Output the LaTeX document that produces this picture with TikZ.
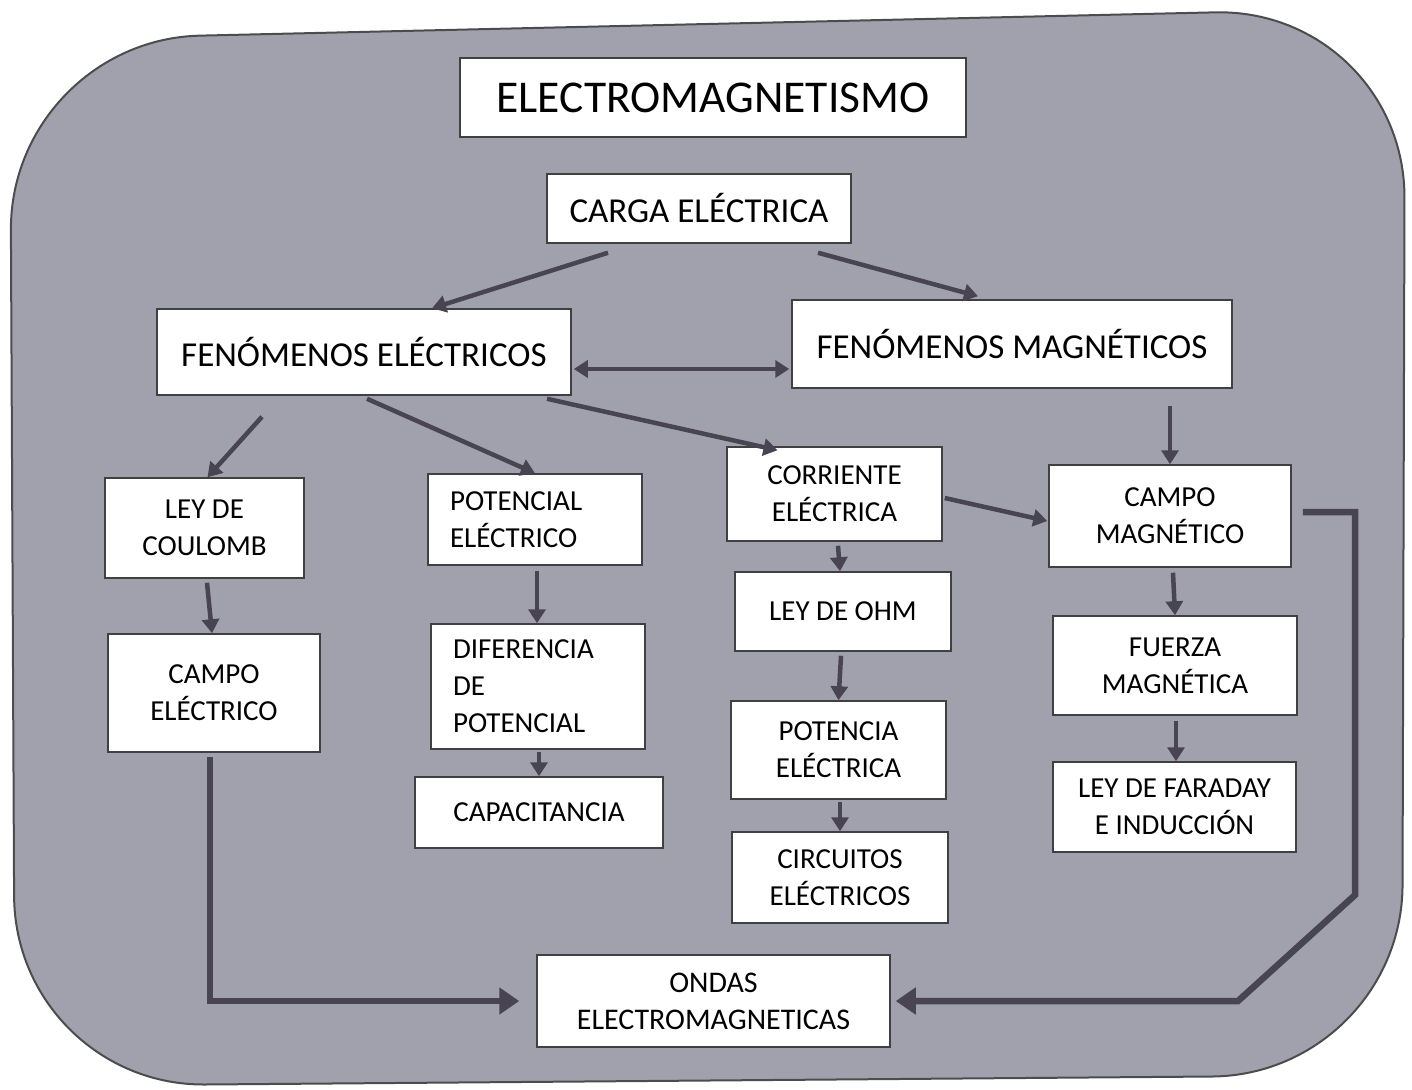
\documentclass[tikz,border=0pt]{standalone}
\usepackage{fontspec}
\setmainfont{Carlito}
\usepackage{tikz}
\usetikzlibrary{arrows.meta}

\definecolor{fondo}{RGB}{161,161,174}
\definecolor{flechagris}{RGB}{72,68,82}

\begin{document}
\begin{tikzpicture}[x=1pt, y=-1pt,
    caja/.style={draw=black!75, line width=1.5pt, fill=white, inner sep=0pt, align=center,
                 font=\fontsize{29}{37}\selectfont},
    cajagrande/.style={caja, font=\fontsize{35}{42}\selectfont},
    flecha/.style={draw=flechagris, line width=4.5pt, -{Triangle[width=17pt,length=14pt]}},
    flechagruesa/.style={draw=flechagris, line width=6.5pt, -{Triangle[width=26pt,length=20pt]}}]
\useasboundingbox (0,0) rectangle (1412,1089);
\draw[fill=fondo, draw=black!70, line width=2pt, rounded corners=190pt]
    (10,40) -- (1405,8) -- (1402,1075) -- (15,1086) -- cycle;

% titulo y primer nivel
\node[caja, font=\fontsize{45.5}{50}\selectfont, minimum width=506pt, minimum height=79pt] (titulo) at (713,97.5) {ELECTROMAGNETISMO};
\node[cajagrande, minimum width=304pt, minimum height=69pt] (carga) at (699,208.5) {CARGA ELÉCTRICA};
\node[cajagrande, minimum width=414pt, minimum height=86pt] (fenelec) at (364,352) {FENÓMENOS ELÉCTRICOS};
\node[cajagrande, minimum width=440pt, minimum height=88pt] (fenmag) at (1012,344) {FENÓMENOS MAGNÉTICOS};

% rama electrica
\node[caja, minimum width=199pt, minimum height=100pt] (coulomb) at (204.5,528) {LEY DE\\COULOMB};
\node[caja, minimum width=212pt, minimum height=118pt] (campoelec) at (214,693) {CAMPO\\ELÉCTRICO};
\node[caja, align=left, text width=170pt, inner xsep=22pt, minimum height=91pt] (potencial) at (535,519.5) {POTENCIAL\\ELÉCTRICO};
\node[caja, align=left, text width=170pt, inner xsep=22pt, minimum height=125pt] (diferencia) at (538,686.5) {DIFERENCIA\\DE\\POTENCIAL};
\node[caja, minimum width=248pt, minimum height=71pt] (capacitancia) at (539,812.5) {CAPACITANCIA};

% corriente
\node[caja, minimum width=215pt, minimum height=94pt] (corriente) at (834.5,494) {CORRIENTE\\ELÉCTRICA};
\node[caja, minimum width=216pt, minimum height=79pt] (ohm) at (843,611.5) {LEY DE OHM};
\node[caja, minimum width=215pt, minimum height=98pt] (potencia) at (838.5,750) {POTENCIA\\ELÉCTRICA};
\node[caja, minimum width=216pt, minimum height=91pt] (circuitos) at (840,877.5) {CIRCUITOS\\ELÉCTRICOS};

% rama magnetica
\node[caja, minimum width=242pt, minimum height=102pt] (campomag) at (1170,516) {CAMPO\\MAGNÉTICO};
\node[caja, minimum width=244pt, minimum height=99pt] (fuerza) at (1175,665.5) {FUERZA\\MAGNÉTICA};
\node[caja, minimum width=243pt, minimum height=90pt] (faraday) at (1174.5,807) {LEY DE FARADAY\\E INDUCCIÓN};

\node[caja, font=\fontsize{30}{37}\selectfont, minimum width=353pt, minimum height=92pt] (ondas) at (713.5,1001) {ONDAS\\ELECTROMAGNETICAS};

% flechas
\draw[flecha] ([xshift=-91pt,yshift=-9pt]carga.south) -- ([xshift=68pt]fenelec.north);
\draw[flecha] ([xshift=119pt,yshift=-9pt]carga.south) -- ([xshift=-34pt,yshift=3pt]fenmag.north);
\draw[flecha, {Triangle[width=17pt,length=14pt]}-{Triangle[width=17pt,length=14pt]}]
    ([xshift=2pt,yshift=-17pt]fenelec.east) -- ([xshift=-2pt,yshift=-25pt]fenmag.west);
\draw[flecha] ([xshift=-102pt,yshift=-21pt]fenelec.south) -- ([xshift=3pt]coulomb.north);
\draw[flecha] ([xshift=3pt,yshift=-3pt]fenelec.south) -- (potencial.north);
\draw[flecha] ([xshift=183pt,yshift=-3pt]fenelec.south) -- ([xshift=-57pt,yshift=-4pt]corriente.north);
\draw[flecha] ([xshift=158pt,yshift=-17pt]fenmag.south) -- (campomag.north);
\draw[flecha] ([xshift=2pt,yshift=-4pt]corriente.east) -- ([xshift=-1pt,yshift=-5pt]campomag.west);
\draw[flecha] ([xshift=3.5pt,yshift=-4pt]corriente.south) -- ([xshift=-3pt]ohm.north);
\draw[flecha] ([xshift=-2pt,yshift=-4pt]ohm.south) -- (potencia.north);
\draw[flecha] ([xshift=1.5pt,yshift=-2pt]potencia.south) -- (circuitos.north);
\draw[flecha] ([xshift=2.5pt,yshift=-4pt]coulomb.south) -- ([xshift=-2pt]campoelec.north);
\draw[flecha] ([xshift=2pt,yshift=-5pt]potencial.south) -- ([xshift=-1pt]diferencia.north);
\draw[flecha] ([xshift=1pt,yshift=-2pt]diferencia.south) -- (capacitancia.north);
\draw[flecha] ([xshift=3pt,yshift=-5pt]campomag.south) -- (fuerza.north);
\draw[flecha] ([xshift=1pt,yshift=-5pt]fuerza.south) -- ([xshift=1.5pt]faraday.north);

% hacia ondas
\coordinate (codoA) at (1355,895);
\coordinate (codoB) at (1238,1001);
\draw[flechagruesa] ([xshift=-4pt,yshift=-4pt]campoelec.south) |- ([xshift=-17pt]ondas.west);
\draw[flechagruesa, line join=miter] ([xshift=11pt,yshift=4pt]campomag.east) -| (codoA) -- (codoB) -- ([xshift=5pt]ondas.east);
\end{tikzpicture}
\end{document}
